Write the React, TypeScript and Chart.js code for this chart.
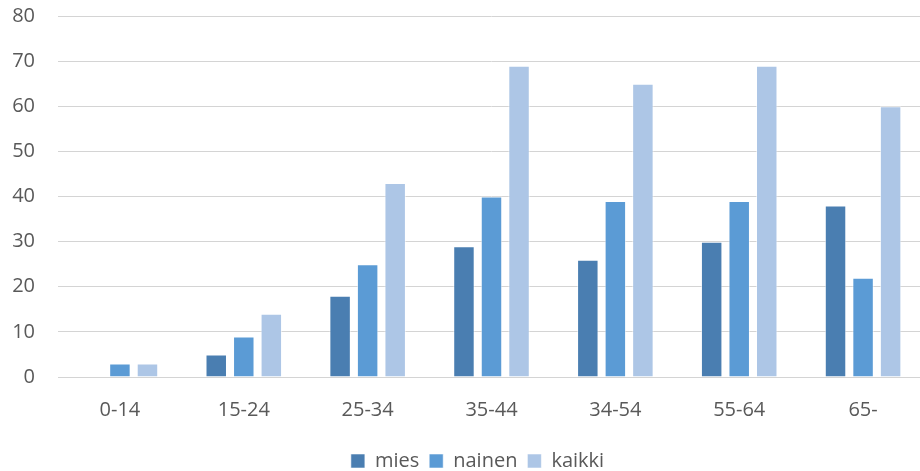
import React, { useEffect, useRef } from "react";
import { Chart, registerables } from "chart.js";

Chart.register(...registerables);

const categories = ["0-14", "15-24", "25-34", "35-44", "34-54", "55-64", "65-"];
const seriesNames = ["mies", "nainen", "kaikki"];
const mies = [0, 5, 18, 29, 26, 30, 38];
const nainen = [3, 9, 25, 40, 39, 39, 22];
const kaikki = [3, 14, 43, 69, 65, 69, 60];
const colors = ["#4A7EB1", "#5B9BD5", "#ADC6E6"];
const yMin = 0;
const yMax = 80;
const yStep = 10;

const FONT = "'Open Sans', 'DejaVu Sans', sans-serif";

const shiftLegend = {
  id: "shiftLegend",
  afterLayout(chart: any) {
    const l = chart.legend;
    if (l) {
      l.left += 15;
      l.right += 15;
    }
  },
};

export default function App() {
  const ref = useRef<HTMLCanvasElement | null>(null);

  useEffect(() => {
    if (!ref.current) return;
    const data = [mies, nainen, kaikki];
    const chart = new Chart(ref.current, {
      type: "bar",
      data: {
        labels: categories,
        datasets: seriesNames.map((name, i) => ({
          label: name,
          data: data[i],
          backgroundColor: colors[i],
          borderColor: "rgba(255,255,255,0.55)",
          borderWidth: 1,
          categoryPercentage: 0.667,
          barPercentage: 0.78,
        })),
      },
      plugins: [shiftLegend],
      options: {
        responsive: false,
        animation: false,
        devicePixelRatio: 1,
        layout: { padding: { top: 4, right: 0, left: 0, bottom: 0 } },
        plugins: {
          tooltip: { enabled: false },
          legend: {
            position: "bottom",
            labels: {
              boxWidth: 14,
              boxHeight: 14,
              padding: 10,
              color: "#595959",
              font: { family: FONT, size: 20 },
            },
          },
        },
        scales: {
          x: {
            grid: { display: false, drawTicks: false },
            border: { display: true, color: "#D4D4D4", width: 1 },
            ticks: {
              color: "#595959",
              font: { family: FONT, size: 20 },
              padding: 21,
              maxRotation: 0,
              autoSkip: false,
            },
            afterFit: (scale: any) => {
              scale.height = 64;
            },
          },
          y: {
            min: yMin,
            max: yMax,
            grid: { color: "#D4D4D4", lineWidth: 1, drawTicks: false },
            border: { display: false },
            ticks: {
              stepSize: yStep,
              color: "#595959",
              font: { family: FONT, size: 20 },
              padding: 23,
            },
            afterFit: (scale: any) => {
              scale.width = 58;
            },
          },
        },
      },
    });
    return () => chart.destroy();
  }, []);

  return (
    <div
      style={{
        position: "fixed",
        left: 0,
        top: 0,
        width: 920,
        height: 471,
        overflow: "hidden",
        background: "#fff",
      }}
    >
      <canvas
        ref={ref}
        width={925}
        height={500}
        style={{ display: "block", marginTop: -19 }}
      />
    </div>
  );
}
